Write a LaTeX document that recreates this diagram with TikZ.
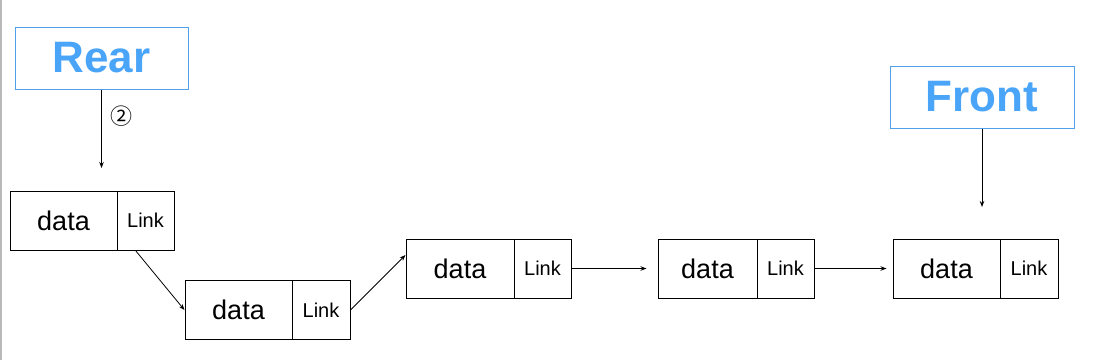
\documentclass[tikz,border=0pt]{standalone}
\usepackage{fontspec}
\setmainfont{Liberation Sans}
\newfontfamily\cjkfont{Noto Sans CJK SC}
\usetikzlibrary{arrows.meta,calc}
\definecolor{ptrblue}{RGB}{74,165,248}
\definecolor{ptrborder}{RGB}{80,160,235}
\tikzset{
  cell/.style={draw=black,line width=1pt,inner sep=0pt,minimum height=59pt},
  datacell/.style={cell,font=\fontsize{27}{30}\selectfont},
  linkcell/.style={cell,minimum width=57pt,font=\fontsize{20}{22}\selectfont},
  ptrbox/.style={draw=ptrborder,line width=1pt,inner sep=0pt,minimum height=62pt,
    text=ptrblue,font=\fontsize{44}{48}\selectfont\bfseries},
  conn/.style={line width=0.8pt,-{Stealth[length=6pt,width=4.5pt]}}
}
\begin{document}
\begin{tikzpicture}[x=1pt,y=-1pt]
\useasboundingbox (0,0) rectangle (1100,360);
\fill[gray!55] (0,0) rectangle (2,360);
% pointer boxes
\node[ptrbox,minimum width=173pt] (rear) at (101.5,58) {Rear};
\node[ptrbox,minimum width=184pt] (front) at (982,97) {Front};
% list nodes
\node[datacell,minimum width=107pt] (d1) at (63.5,220.5) {data};
\node[linkcell] (l1) at (145.5,220.5) {Link};
\node[datacell,minimum width=107pt] (d2) at (238.5,310) {data};
\node[linkcell,minimum width=58pt] (l2) at (321,310) {Link};
\node[datacell,minimum width=108pt] (d3) at (460,268.5) {data};
\node[linkcell] (l3) at (542.5,268.5) {Link};
\node[datacell,minimum width=99pt] (d4) at (707.5,268.5) {data};
\node[linkcell] (l4) at (785.5,268.5) {Link};
\node[datacell,minimum width=107pt] (d5) at (946.5,268.5) {data};
\node[linkcell,minimum width=58pt] (l5) at (1029,268.5) {Link};
% free ends of pointer arrows
\coordinate (rearend) at (101.5,168);
\coordinate (frontend) at (982,207);
\draw[conn] (rear.south) -- (rearend);
\node[font=\cjkfont\fontsize{22}{24}\selectfont,inner sep=0pt] (step2) at (121,116) {②};
\draw[conn] (front.south) -- (frontend);
% links
\draw[conn] ([xshift=-10pt]l1.south) -- (d2.west);
\draw[conn] (l2.east) -- ([yshift=13.5pt]d3.west);
\draw[conn,shorten >=11pt] (l3.east) -- (d4.west);
\draw[conn,shorten >=6pt] (l4.east) -- (d5.west);
\end{tikzpicture}
\end{document}
